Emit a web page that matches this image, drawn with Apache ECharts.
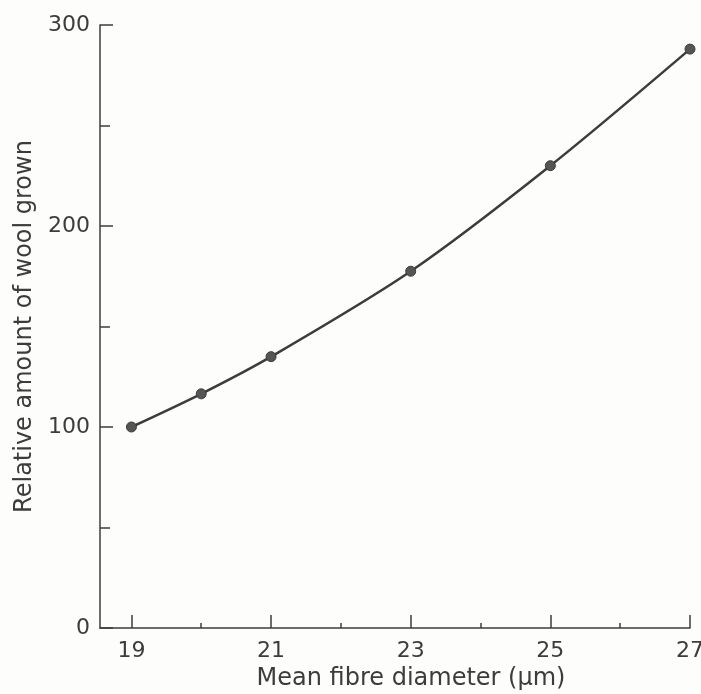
<!DOCTYPE html>
<html>
<head>
<meta charset="utf-8">
<script src="https://cdn.jsdelivr.net/npm/echarts@6/dist/echarts.min.js"></script>
<style>
  html, body { margin: 0; padding: 0; background: #fdfdfb; }
  #chart { width: 701px; height: 694px; }
</style>
</head>
<body>
<div id="chart"></div>
<script>
// fibre diameter (µm) vs relative wool growth
const diameters = [19, 20, 21, 23, 25, 27];
const woolGrown = [100, 116.5, 135, 177.5, 230, 288];

const xMajorTicks = [19, 21, 23, 25, 27];
const xMinorTicks = [20, 22, 24, 26];
const yMajorTicks = [0, 100, 200, 300];
const yMinorTicks = [50, 150, 250];

const ink = '#3c3c3c';
const font = 'DejaVu Sans';

const chart = echarts.init(document.getElementById('chart'));

chart.setOption({
  backgroundColor: '#fdfdfb',
  animation: false,
  grid: { left: 100, right: 11, top: 25, bottom: 66, outerBoundsMode: 'none', containLabel: false },
  xAxis: [
    {
      type: 'value',
      min: 18.55,
      max: 27,
      name: 'Mean fibre diameter (\u03bcm)',
      nameLocation: 'middle',
      nameGap: 38,
      nameTextStyle: { color: ink, fontFamily: font, fontSize: 24, padding: [0, 0, 0, 32] },
      axisLine: { show: true, lineStyle: { color: ink, width: 1.5 } },
      axisTick: { show: true, inside: true, length: 13, customValues: xMajorTicks, lineStyle: { color: ink, width: 1.5 } },
      axisLabel: { customValues: xMajorTicks, color: ink, fontFamily: font, fontSize: 22, margin: 12 },
      splitLine: { show: false }
    },
    {
      type: 'value',
      min: 18.55,
      max: 27,
      position: 'bottom',
      axisLine: { show: false },
      axisTick: { show: true, inside: true, length: 5, customValues: xMinorTicks, lineStyle: { color: ink, width: 1.5 } },
      axisLabel: { show: false },
      splitLine: { show: false }
    }
  ],
  yAxis: [
    {
      type: 'value',
      min: 0,
      max: 300,
      name: 'Relative amount of wool grown',
      nameLocation: 'middle',
      nameGap: 62,
      nameTextStyle: { color: ink, fontFamily: font, fontSize: 24 },
      axisLine: { show: true, lineStyle: { color: ink, width: 1.5 } },
      axisTick: { show: true, inside: true, length: 13, customValues: yMajorTicks, lineStyle: { color: ink, width: 1.5 } },
      axisLabel: { customValues: yMajorTicks, color: ink, fontFamily: font, fontSize: 22, margin: 10 },
      splitLine: { show: false }
    },
    {
      type: 'value',
      min: 0,
      max: 300,
      position: 'left',
      axisLine: { show: false },
      axisTick: { show: true, inside: true, length: 10, customValues: yMinorTicks, lineStyle: { color: ink, width: 1.5 } },
      axisLabel: { show: false },
      splitLine: { show: false }
    }
  ],
  series: [
    {
      type: 'line',
      data: diameters.map((d, i) => [d, woolGrown[i]]),
      smooth: 0.3,
      symbol: 'circle',
      symbolSize: 10,
      lineStyle: { color: ink, width: 2.5 },
      itemStyle: { color: '#555555', borderColor: ink, borderWidth: 1 }
    }
  ]
});
</script>
</body>
</html>
